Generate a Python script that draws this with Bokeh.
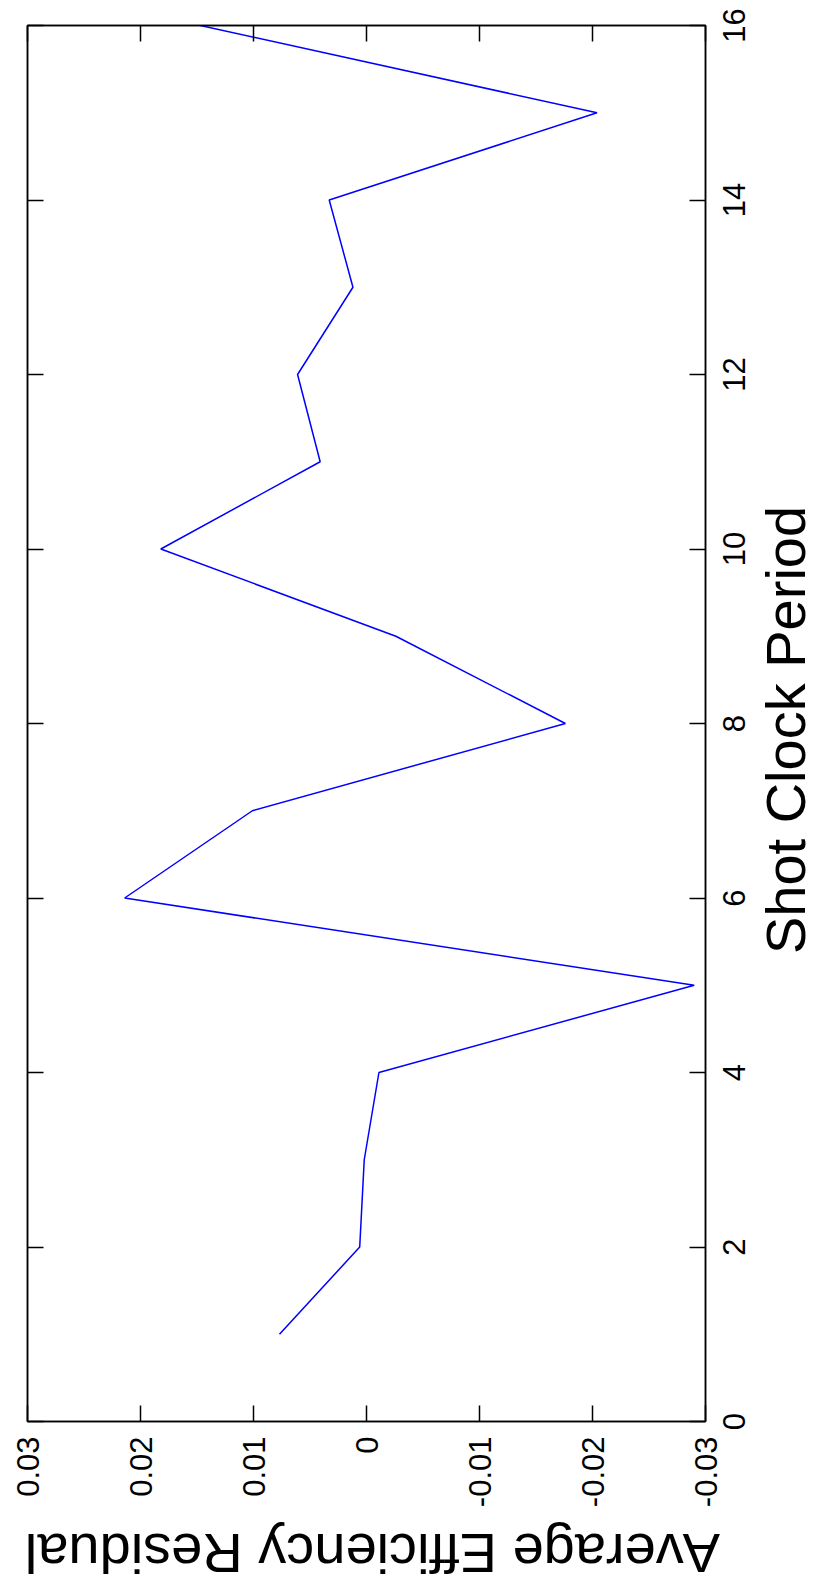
import math
from bokeh.plotting import figure
from bokeh.layouts import column, row
from bokeh.models import Range1d, LinearAxis, FixedTicker, Label, CustomJSTickFormatter
from bokeh.embed import file_html
from bokeh.resources import INLINE

# ---- data ----
shot_clock_period = [1, 2, 3, 4, 5, 6, 7, 8, 9, 10, 11, 12, 13, 14, 15, 16]
avg_efficiency_residual = [0.0077, 0.0006, 0.0002, -0.0011, -0.0290, 0.0214, 0.0101, -0.0176,
                           -0.0026, 0.0182, 0.0041, 0.0061, 0.0012, 0.0033, -0.0204, 0.0147]

residual_ticks = [0.03, 0.02, 0.01, 0.0, -0.01, -0.02, -0.03]
residual_tick_labels = ["0.03", "0.02", "0.01", "0", "-0.01", "-0.02", "-0.03"]
period_ticks = [0, 2, 4, 6, 8, 10, 12, 14, 16]
period_tick_labels = ["0", "2", "4", "6", "8", "10", "12", "14", "16"]

x_title = "Shot Clock Period"
y_title = "Average Efficiency Residual"

FONT = "Liberation Sans"
TICK_FS = "31px"
TITLE_FS = "56px"

# ---- layout constants (pixels) ----
W, H = 817, 1585
FRAME_L, FRAME_R, FRAME_T, FRAME_B = 27, 705, 25, 1421
ROW_H = 1435          # height of the top row (box + right-hand labels)
MAIN_W = 708          # width of the main figure
TITLE_X0 = 752        # left edge of the strip holding the x title
LAB_H = 85            # strip with the residual tick labels
PPU = (FRAME_B - FRAME_T) / 16.0
X_TITLE_X, X_TITLE_Y = 785, 729.5     # centre of "Shot Clock Period"
Y_TITLE_X, Y_TITLE_Y = 372, 1553      # centre of "Average Efficiency Residual"

period_range = Range1d(0, 16)
residual_range = Range1d(0.03, -0.03)


def blank(fig):
    fig.background_fill_color = "white"
    fig.border_fill_color = "white"
    fig.outline_line_color = None
    fig.xgrid.grid_line_color = None
    fig.ygrid.grid_line_color = None


def style(ax):
    ax.major_tick_in = 16
    ax.major_tick_out = 0
    ax.minor_tick_line_color = None
    ax.axis_line_color = "black"
    ax.axis_line_width = 1.5
    ax.major_tick_line_color = "black"
    ax.major_tick_line_width = 1.5
    ax.major_label_text_font = FONT
    ax.major_label_text_font_size = TICK_FS
    ax.major_label_text_color = "black"


def common(**kw):
    return dict(x_axis_location=None, y_axis_location=None, title_location=None,
                output_backend="svg", toolbar_location=None, **kw)


# ---- main box: line + ticks on all four sides ----
p = figure(width=MAIN_W, height=ROW_H, x_range=residual_range, y_range=period_range,
           **common(min_border_left=FRAME_L, min_border_right=MAIN_W - FRAME_R,
                    min_border_top=FRAME_T, min_border_bottom=ROW_H - FRAME_B))
blank(p)
p.outline_line_color = "black"
p.outline_line_width = 1.5

empty = "return ''"
for side, ticks in (("below", residual_ticks), ("right", period_ticks),
                    ("above", residual_ticks), ("left", period_ticks)):
    ax = LinearAxis(ticker=FixedTicker(ticks=ticks),
                    formatter=CustomJSTickFormatter(code=empty),
                    major_label_standoff=0)
    style(ax)
    ax.major_label_text_font_size = "1px"
    p.add_layout(ax, side)

p.line(avg_efficiency_residual, shot_clock_period, line_color="#0000ff", line_width=1.5)

# ---- right-hand tick labels (shot clock period) ----
pr = figure(width=TITLE_X0 - MAIN_W, height=ROW_H, x_range=Range1d(0, 1), y_range=period_range,
            **common(min_border_left=40, min_border_right=0,
                     min_border_top=FRAME_T, min_border_bottom=ROW_H - FRAME_B))
blank(pr)
pax = LinearAxis(ticker=FixedTicker(ticks=period_ticks),
                 major_label_overrides=dict(zip(period_ticks, period_tick_labels)),
                 major_label_orientation="vertical", major_label_standoff=4)
style(pax)
pax.major_tick_in = 0
pax.axis_line_color = None
pax.major_tick_line_color = None
pr.add_layout(pax, "left")

# ---- x title strip ----
pt = figure(width=W - TITLE_X0, height=ROW_H, x_range=Range1d(TITLE_X0, W), y_range=period_range,
            **common(min_border_left=0, min_border_right=0,
                     min_border_top=FRAME_T, min_border_bottom=ROW_H - FRAME_B))
blank(pt)
pt.add_layout(Label(x=X_TITLE_X, y=(FRAME_B - X_TITLE_Y) / PPU, text=x_title,
                    angle=math.pi / 2, text_align="center", text_baseline="middle",
                    text_font=FONT, text_font_size=TITLE_FS, text_color="black"))

# ---- residual tick labels under the box ----
pl = figure(width=W, height=LAB_H, x_range=residual_range, y_range=Range1d(0, 1),
            **common(min_border_left=FRAME_L, min_border_right=W - FRAME_R,
                     min_border_top=0, min_border_bottom=LAB_H - 1))
blank(pl)
bax = LinearAxis(ticker=FixedTicker(ticks=residual_ticks),
                 major_label_overrides=dict(zip(residual_ticks, residual_tick_labels)),
                 major_label_orientation=math.pi / 2, major_label_standoff=0)
style(bax)
bax.major_tick_in = 0
bax.axis_line_color = None
bax.major_tick_line_color = None
pl.add_layout(bax, "below")

# ---- y title strip (upside down, as in the rotated reference) ----
top_b = ROW_H + LAB_H
pb = figure(width=W, height=H - top_b, x_range=Range1d(0, W), y_range=Range1d(H, top_b),
            **common(min_border_left=0, min_border_right=0, min_border_top=0, min_border_bottom=0))
blank(pb)
pb.add_layout(Label(x=Y_TITLE_X, y=Y_TITLE_Y, text=y_title, angle=math.pi,
                    text_align="center", text_baseline="middle",
                    text_font=FONT, text_font_size=TITLE_FS, text_color="black"))

layout = column(row(p, pr, pt), row(pl), row(pb))
open("out.html", "w").write(file_html(layout, INLINE))
